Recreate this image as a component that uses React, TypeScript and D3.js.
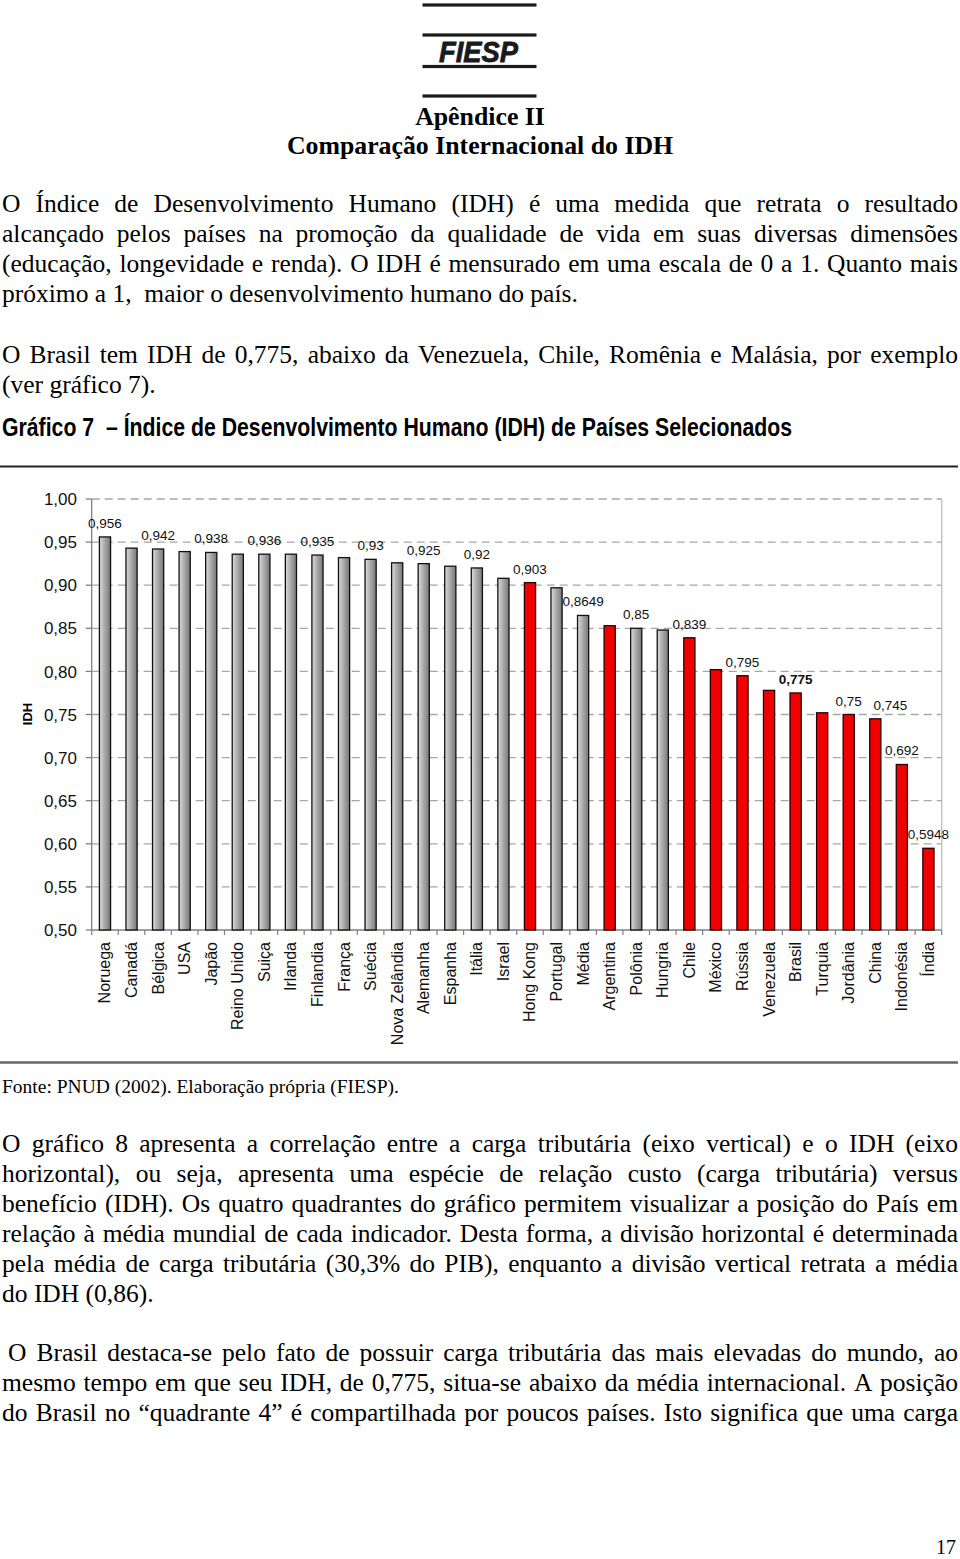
import React from "react";
import * as d3 from "d3";

const CATEGORIES = ["Noruega","Canadá","Bélgica","USA","Japão","Reino Unido","Suiça","Irlanda","Finlandia","França","Suécia","Nova Zelândia","Alemanha","Espanha","Itália","Israel","Hong Kong","Portugal","Média","Argentina","Polônia","Hungria","Chile","México","Rússia","Venezuela","Brasil","Turquia","Jordânia","China","Indonésia","Índia"];
const VALUES = [0.956,0.943,0.942,0.939,0.938,0.936,0.936,0.936,0.935,0.932,0.93,0.926,0.925,0.922,0.92,0.908,0.903,0.897,0.8649,0.853,0.85,0.848,0.839,0.802,0.795,0.778,0.775,0.752,0.75,0.745,0.692,0.5948];
const HIGHLIGHTED = ["Hong Kong","Argentina","Chile","México","Rússia","Venezuela","Brasil","Turquia","Jordânia","China","Indonésia","Índia"];
const LABELED = ["Noruega","Bélgica","Japão","Suiça","Finlandia","Suécia","Alemanha","Itália","Hong Kong","Média","Polônia","Chile","Rússia","Brasil","Jordânia","China","Indonésia","Índia"];
const BOLD_LABEL = ["Brasil"];
const Y_TICKS = [0.5,0.55,0.6,0.65,0.7,0.75,0.8,0.85,0.9,0.95,1.0];

const TITLE_LINES = ["Apêndice II", "Comparação Internacional do IDH"];
const PARA1 = [
  "O Índice de Desenvolvimento Humano (IDH) é uma medida que retrata o resultado",
  "alcançado pelos países na promoção da qualidade de vida em suas diversas dimensões",
  "(educação, longevidade e renda). O IDH é mensurado em uma escala de 0 a 1. Quanto mais",
  "próximo a 1,  maior o desenvolvimento humano do país.",
];
const PARA2 = [
  "O Brasil tem IDH de 0,775, abaixo da Venezuela, Chile, Romênia e Malásia, por exemplo",
  "(ver gráfico 7).",
];
const CHART_TITLE = "Gráfico 7  – Índice de Desenvolvimento Humano (IDH) de Países Selecionados";
const SOURCE = "Fonte: PNUD (2002). Elaboração própria (FIESP).";
const PARA3 = [
  "O gráfico 8 apresenta a correlação entre a carga tributária (eixo vertical) e o IDH (eixo",
  "horizontal), ou seja, apresenta uma espécie de relação custo (carga tributária) versus",
  "benefício (IDH). Os quatro quadrantes do gráfico permitem visualizar a posição do País em",
  "relação à média mundial de cada indicador. Desta forma, a divisão horizontal é determinada",
  "pela média de carga tributária (30,3% do PIB), enquanto a divisão vertical retrata a média",
  "do IDH (0,86).",
];
const PARA4 = [
  "O Brasil destaca-se pelo fato de possuir carga tributária das mais elevadas do mundo, ao",
  "mesmo tempo em que seu IDH, de 0,775, situa-se abaixo da média internacional. A posição",
  "do Brasil no “quadrante 4” é compartilhada por poucos países. Isto significa que uma carga",
];
const PAGE_NUMBER = "17";

// layout
const LABEL_NUDGE: Record<string, number> = { China: 15 };
const SERIF = "'Liberation Serif', 'Times New Roman', serif";
const SANS = "'Liberation Sans', Arial, sans-serif";
const BODY_SIZE = 25.5;

let ctx: CanvasRenderingContext2D | null = null;
function measure(text: string, font: string): number {
  if (!ctx) ctx = document.createElement("canvas").getContext("2d");
  if (!ctx) return text.length * 10;
  ctx.font = font;
  return ctx.measureText(text).width;
}

function JustLine({ text, y, x0, x1, justify }: { text: string; y: number; x0: number; x1: number; justify: boolean }) {
  const font = `${BODY_SIZE}px ${SERIF}`;
  if (!justify) {
    return (
      <text x={x0} y={y} fontFamily={SERIF} fontSize={BODY_SIZE} style={{ whiteSpace: "pre" }}>{text}</text>
    );
  }
  const words = text.split(" ");
  const widths = words.map((w) => measure(w, font));
  const total = d3.sum(widths);
  const gap = words.length > 1 ? (x1 - x0 - total) / (words.length - 1) : 0;
  let x = x0;
  const xs = widths.map((w) => {
    const cur = x;
    x += w + gap;
    return cur;
  });
  return (
    <text y={y} fontFamily={SERIF} fontSize={BODY_SIZE}>
      {words.map((w, i) => (
        <tspan key={i} x={xs[i]}>{w}</tspan>
      ))}
    </text>
  );
}

function Paragraph({ lines, y0, justifyLast, x0 = 2 }: { lines: string[]; y0: number; justifyLast?: boolean; x0?: number }) {
  return (
    <g>
      {lines.map((l, i) => (
        <JustLine
          key={i}
          text={l}
          y={y0 + i * 30}
          x0={i === 0 ? x0 : 2}
          x1={958}
          justify={i < lines.length - 1 || !!justifyLast}
        />
      ))}
    </g>
  );
}

export default function App() {
  const left = 91.7, right = 941.7, top = 499, bottom = 930;
  const x = d3.scaleBand<string>().domain(CATEGORIES).range([left, right]).paddingInner(0.58).paddingOuter(0.29);
  const y = d3.scaleLinear().domain([0.5, 1.0]).range([bottom, top]);
  const fmt = (v: number) => String(v).replace(".", ",");
  const fmt2 = (v: number) => d3.format(".2f")(v).replace(".", ",");
  const step = x.step();

  return (
    <svg width={960} height={1559} style={{ position: "absolute", left: 0, top: 0, background: "#fff" }}>
      <defs>
        <linearGradient id="grayBar" x1="0" x2="1" y1="0" y2="0">
          <stop offset="0" stopColor="#dcdcdc" />
          <stop offset="0.45" stopColor="#acacac" />
          <stop offset="1" stopColor="#777" />
        </linearGradient>
      </defs>
      <rect width={960} height={1559} fill="#fff" />

      {/* Logo */}
      <g fill="#1a1a1a">
        {[5, 35, 66.5, 96].map((ly) => (
          <rect key={ly} x={422.5} y={ly - 1.6} width={114} height={3.2} />
        ))}
        <text x={439} y={61.5} fontFamily={SANS} fontWeight="900" fontStyle="italic" fontSize={29} stroke="#1a1a1a" strokeWidth={0.8} textLength={79} lengthAdjust="spacingAndGlyphs">FIESP</text>
      </g>

      {/* Titles */}
      {TITLE_LINES.map((t, i) => (
        <text key={t} x={480} y={125 + i * 28.5} textAnchor="middle" fontFamily={SERIF} fontWeight="bold" fontSize={25.8}>{t}</text>
      ))}

      <Paragraph lines={PARA1} y0={211.5} />
      <Paragraph lines={PARA2} y0={363} />

      <text x={2} y={435.5} fontFamily={SANS} fontWeight="bold" fontSize={25} textLength={790} lengthAdjust="spacingAndGlyphs" style={{ whiteSpace: "pre" }}>{CHART_TITLE}</text>

      {/* chart frame */}
      <line x1={0} x2={958} y1={466.5} y2={466.5} stroke="#222" strokeWidth={2} />
      <line x1={0} x2={958} y1={1062.5} y2={1062.5} stroke="#666" strokeWidth={2.5} />

      {/* gridlines */}
      {Y_TICKS.filter((t) => t > 0.5).map((t) => (
        <line key={t} x1={left} x2={right} y1={y(t)} y2={y(t)} stroke="#a6a6a6" strokeWidth={1.3} strokeDasharray="8,5" />
      ))}
      <line x1={right} x2={right} y1={top} y2={bottom} stroke="#bdbdbd" strokeWidth={1.3} />

      {/* y axis */}
      <line x1={left} x2={left} y1={top} y2={bottom} stroke="#808080" strokeWidth={1.3} />
      {Y_TICKS.map((t) => (
        <g key={t}>
          <line x1={left - 6} x2={left} y1={y(t)} y2={y(t)} stroke="#808080" strokeWidth={1.3} />
          <text x={77} y={y(t)} dy="0.36em" textAnchor="end" fontFamily={SANS} fontSize={17} fill="#111">{fmt2(t)}</text>
        </g>
      ))}
      <text transform={`translate(31.5, 714) rotate(-90)`} textAnchor="middle" fontFamily={SANS} fontWeight="bold" fontSize={13}>IDH</text>

      {/* x axis */}
      <line x1={left} x2={right} y1={bottom} y2={bottom} stroke="#808080" strokeWidth={1.3} />
      {d3.range(CATEGORIES.length + 1).map((i) => (
        <line key={i} x1={left + i * step} x2={left + i * step} y1={bottom} y2={bottom + 5} stroke="#808080" strokeWidth={1.2} />
      ))}

      {/* bars */}
      {CATEGORIES.map((c, i) => {
        const v = VALUES[i];
        const red = HIGHLIGHTED.includes(c);
        return (
          <rect
            key={c}
            x={x(c)!}
            y={y(v)}
            width={x.bandwidth()}
            height={bottom - y(v)}
            fill={red ? "#f00000" : "url(#grayBar)"}
            stroke={red ? "#2a0000" : "#111"}
            strokeWidth={1.3}
          />
        );
      })}

      {/* value labels */}
      {CATEGORIES.map((c, i) => {
        if (!LABELED.includes(c)) return null;
        const v = VALUES[i];
        const cx = x(c)! + x.bandwidth() / 2 + (LABEL_NUDGE[c] || 0);
        return (
          <text key={c} x={cx} y={y(v) - 9} textAnchor="middle" fontFamily={SANS} fontSize={13.5} fontWeight={BOLD_LABEL.includes(c) ? "bold" : "normal"} fill="#111">{fmt(v)}</text>
        );
      })}

      {/* category labels */}
      {CATEGORIES.map((c) => {
        const cx = x(c)! + x.bandwidth() / 2 + 5.5;
        return (
          <text key={c} transform={`translate(${cx}, 942) rotate(-90)`} textAnchor="end" fontFamily={SANS} fontSize={16} fill="#111">{c}</text>
        );
      })}

      <text x={2} y={1093} fontFamily={SERIF} fontSize={19.5}>{SOURCE}</text>

      <Paragraph lines={PARA3} y0={1151.5} />
      <Paragraph lines={PARA4} y0={1360.5} justifyLast x0={8} />

      <text x={956} y={1554} textAnchor="end" fontFamily={SERIF} fontSize={20}>{PAGE_NUMBER}</text>
    </svg>
  );
}
